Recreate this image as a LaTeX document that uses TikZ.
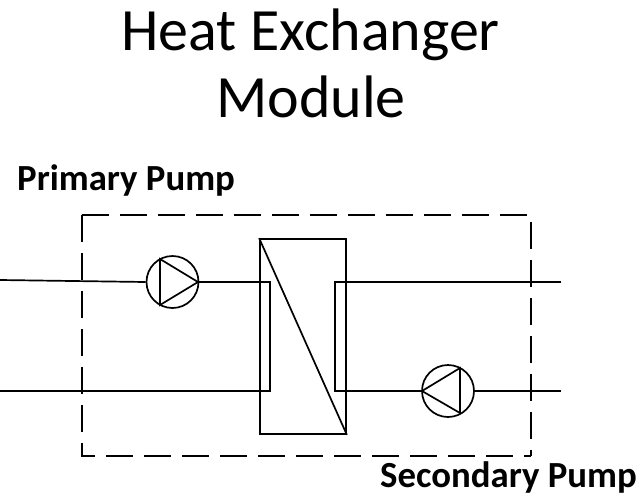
\documentclass[tikz,border=0pt]{standalone}
\usepackage{fontspec}
\setmainfont{Carlito}
\begin{document}
\begin{tikzpicture}[x=1pt,y=-1pt,
  pipe/.style={draw=black,line width=1.7pt,line join=miter},
  boundary/.style={draw=black,line width=1.7pt,dash pattern=on 27pt off 11pt},
  pumpbody/.style={circle,draw=black,line width=1.7pt,minimum size=52pt,inner sep=0pt},
  exchanger/.style={rectangle,draw=black,line width=1.7pt,minimum width=86pt,minimum height=195pt,inner sep=0pt},
  title/.style={font=\fontsize{60}{67}\selectfont,inner sep=0pt,anchor=base},
  tag/.style={font=\fontsize{36.8}{44}\selectfont\bfseries,inner sep=0pt,anchor=base west}]
\useasboundingbox (0,0) rectangle (640,499);
\fill[white] (0,0) rectangle (640,499);
\node[title] (heading) at (310.5,50) {Heat Exchanger};
\node[title] (headingb) at (311,117) {Module};
\node[tag] (primary) at (17,190.5) {Primary Pump};
\node[tag] (secondary) at (380,487) {Secondary Pump};
\node[rectangle,minimum width=448.5pt,minimum height=241pt,inner sep=0pt] (module) at (306.25,335.5) {};
\draw[boundary] (module.north west) -- (module.north east) -- (module.south east);
\draw[boundary] (module.north west) -- (module.south west) -- (module.south east);
\node[exchanger] (hx) at (303,336.5) {};
\draw[pipe] (hx.north west) -- (hx.south east);
\node[pumpbody] (pump1) at (172.5,282) {};
\node[pumpbody] (pump2) at (448,391) {};
\coordinate (p1a) at (160,259);
\coordinate (p1b) at (198,282);
\coordinate (p1c) at (160,305);
\draw[pipe] (p1a) -- (p1b) -- (p1c) -- cycle;
\coordinate (p2a) at (460,368);
\coordinate (p2b) at (422,391);
\coordinate (p2c) at (460,413);
\draw[pipe] (p2a) -- (p2b) -- (p2c) -- cycle;
\coordinate (in1) at (0,280);
\coordinate (out1) at (0,391);
\coordinate (in2) at (561,282);
\coordinate (out2) at (561,391);
\coordinate (c1) at (270,282);
\coordinate (c2) at (270,391);
\coordinate (c3) at (335,282);
\coordinate (c4) at (335,391);
\draw[pipe] (in1) -- (pump1.west);
\draw[pipe] (pump1.east) -- (c1) -- (c2) -- (out1);
\draw[pipe] (in2) -- (c3) -- (c4) -- (pump2.west);
\draw[pipe] (pump2.east) -- (out2);
\end{tikzpicture}
\end{document}
